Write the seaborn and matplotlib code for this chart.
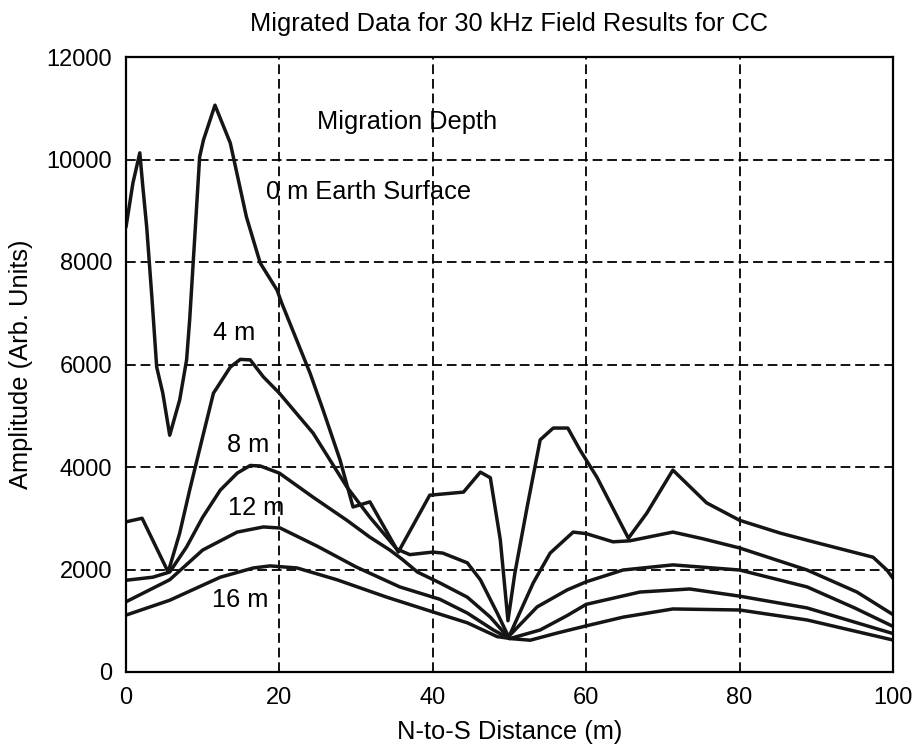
import matplotlib
matplotlib.use("Agg")
import matplotlib.pyplot as plt
from matplotlib import font_manager
import seaborn as sns
import pandas as pd

# ---- data ----
x_0m = [0, 0.9, 1.8, 2.2, 2.7, 3.4, 4.0, 4.8, 5.7, 7.0, 7.9, 8.3, 9.0, 9.6, 10.1, 11.6, 13.6, 15.7, 17.5, 19.7,
        20.3, 24.0, 25.7, 27.9, 29.6, 31.8, 35.5, 39.6, 44.0, 46.2, 47.5, 48.8, 49.8, 50.7, 52.3, 54.0, 55.7, 57.6,
        59.2, 61.4, 65.5, 67.9, 71.3, 75.7, 80.0, 85.3, 89.6, 97.4, 99.2, 100]
y_0m = [8680, 9540, 10130, 9460, 8680, 7260, 5950, 5440, 4620, 5310, 6090, 6870, 8570, 10050, 10380, 11060, 10320,
        8880, 7980, 7450, 7200, 5830, 5110, 4140, 3220, 3320, 2340, 3450, 3510, 3900, 3790, 2580, 1000, 1930, 3220,
        4530, 4760, 4760, 4330, 3800, 2610, 3100, 3940, 3300, 2960, 2710, 2540, 2240, 1990, 1830]

x_4m = [0, 2.1, 5.5, 7.0, 8.3, 9.9, 11.4, 13.6, 14.9, 16.2, 17.9, 20.0, 24.4, 28.8, 31.8, 35.3, 37.0, 40.0, 41.3,
        44.5, 46.2, 48.4, 49.9, 53.1, 55.3, 58.3, 60.0, 63.5, 65.7, 71.3, 75.2, 80.0, 88.8, 95.3, 100]
y_4m = [2930, 3000, 1950, 2710, 3550, 4530, 5440, 5950, 6100, 6090, 5760, 5440, 4660, 3610, 3020, 2400, 2290, 2340,
        2320, 2130, 1800, 1150, 680, 1740, 2320, 2730, 2700, 2540, 2560, 2730, 2600, 2420, 1990, 1560, 1120]

x_8m = [0, 3.5, 5.7, 7.9, 10.0, 12.3, 14.5, 16.2, 17.5, 20.0, 24.4, 28.8, 31.8, 34.4, 36.0, 38.0, 40.9, 44.5, 47.5,
        49.8, 53.6, 57.5, 60.0, 64.8, 71.3, 80.0, 88.8, 95.0, 100]
y_8m = [1790, 1850, 1950, 2440, 3020, 3550, 3880, 4030, 4020, 3880, 3410, 2960, 2630, 2380, 2200, 1950, 1740, 1460,
        1070, 680, 1270, 1600, 1760, 1990, 2090, 1990, 1660, 1250, 890]

x_12m = [0, 5.7, 10.0, 14.5, 17.9, 20.1, 25.0, 30.0, 35.7, 40.9, 44.5, 47.9, 50.0, 54.0, 57.5, 60.0, 67.0, 73.5,
         80.0, 88.8, 100]
y_12m = [1370, 1800, 2380, 2730, 2830, 2810, 2450, 2050, 1660, 1420, 1150, 820, 650, 820, 1100, 1320, 1560, 1620,
         1480, 1250, 750]

x_16m = [0, 5.7, 12.3, 16.6, 18.8, 22.3, 27.5, 34.0, 40.9, 44.5, 48.4, 50.3, 52.7, 56.2, 60.0, 64.8, 71.3, 80.0,
         88.8, 100]
y_16m = [1110, 1400, 1850, 2030, 2070, 2030, 1800, 1460, 1130, 960, 690, 650, 620, 760, 900, 1070, 1230, 1210,
         1015, 624]

depth_labels = ["0 m", "4 m", "8 m", "12 m", "16 m"]
x_ticks = [0, 20, 40, 60, 80, 100]
y_ticks = [0, 2000, 4000, 6000, 8000, 10000, 12000]

frames = []
for name, xs, ys in zip(depth_labels, [x_0m, x_4m, x_8m, x_12m, x_16m], [y_0m, y_4m, y_8m, y_12m, y_16m]):
    frames.append(pd.DataFrame({"x": xs, "y": ys, "depth": name}))
df = pd.concat(frames, ignore_index=True)

# ---- style ----
sns.set_theme(style="white")
avail = {f.name for f in font_manager.fontManager.ttflist}
fam = "Liberation Sans Narrow" if "Liberation Sans Narrow" in avail else "Liberation Sans"
plt.rcParams["font.family"] = [fam, "DejaVu Sans"]
plt.rcParams["lines.scale_dashes"] = False

fig = plt.figure(figsize=(9.16, 7.46), dpi=100)
ax = fig.add_axes([126 / 916, 1 - 672 / 746, 767 / 916, 615 / 746])

sns.lineplot(data=df, x="x", y="y", units="depth", estimator=None, sort=False,
             color="#151515", linewidth=2.5, ax=ax, legend=False)

ax.set_xlim(0, 100)
ax.set_ylim(0, 12000)
ax.set_xticks(x_ticks)
ax.set_yticks(y_ticks)
ax.tick_params(axis="both", length=0, labelsize=17, colors="black")
ax.tick_params(axis="x", pad=11)
ax.tick_params(axis="y", pad=10)

ax.grid(True, color="black", linestyle=(0, (7, 3.5)), linewidth=1.3)
for s in ax.spines.values():
    s.set_color("black")
    s.set_linewidth(1.6)

ax.set_title("Migrated Data for 30 kHz Field Results for CC", fontsize=18.3, pad=19, color="black")
ax.set_xlabel("N-to-S Distance (m)", fontsize=18.4, labelpad=8, color="black")
ax.set_ylabel("Amplitude (Arb. Units)", fontsize=18.4, labelpad=10, color="black")

txt_kw = dict(fontsize=18.3, color="black", ha="left", va="center")
ax.text(24.9, 10730, "Migration Depth", **txt_kw)
ax.text(18.3, 9370, "0 m Earth Surface", **txt_kw)
ax.text(11.3, 6610, "4 m", **txt_kw)
ax.text(13.2, 4430, "8 m", **txt_kw)
ax.text(13.3, 3200, "12 m", **txt_kw)
ax.text(11.2, 1400, "16 m", **txt_kw)

fig.savefig("out.png", dpi=100)
